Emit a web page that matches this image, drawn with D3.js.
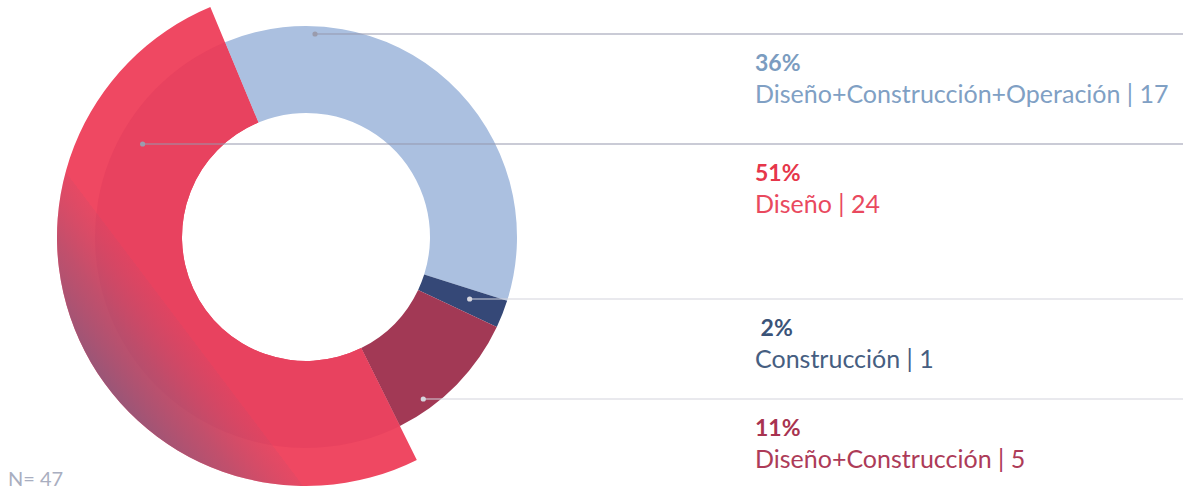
<!DOCTYPE html>
<html>
<head>
<meta charset="utf-8">
<script src="https://cdn.jsdelivr.net/npm/d3@7"></script>
<style>
  body { margin: 0; background: #fff; }
  text { font-family: Lato, "Open Sans", sans-serif; }
</style>
</head>
<body>
<div class="canvas"></div>
<script>
const canvasWidth = 1183;
const canvasHeight = 493;

// data
const categories = ['Diseño+Construcción+Operación', 'Construcción', 'Diseño+Construcción', 'Diseño'];
const counts = [17, 1, 5, 24];
const percents = ['36%', ' 2%', '11%', '51%'];
const legendOrder = [0, 3, 1, 2];
const total = 47;

const sliceColors = ['#abc0e0', '#354877', '#a23955', '#e8425f'];
const pctColors = ['#7b9cc0', '#3b5378', '#a83350', '#e6364a'];
const labelColors = ['#80a0c4', '#465e81', '#ad3b58', '#e9495e'];

const cx = 306, cy = 237;
const innerR = 124, outerR = 211, bigR = 249;
const rowY = [34, 144, 299, 399];           // leader line y per legend row
const dotR = [203.2, 175, 200, 188];        // radius where the leader dot sits, per slice
const lineColors = ['#9597ad', '#d3d3dc', '#d3d3dc', '#9597ad'];

const svg = d3.select('.canvas')
  .append('svg')
  .attr('width', canvasWidth)
  .attr('height', canvasHeight);

const defs = svg.append('defs');

// diagonal shade over the lower-left part of the big slice (coords relative to centre)
const nx = -0.797, ny = 0.603;
const lx = 186 - cx, ly = 331 - cy;
const grad = defs.append('linearGradient')
  .attr('id', 'shade')
  .attr('gradientUnits', 'userSpaceOnUse')
  .attr('x1', lx - 160 * nx).attr('y1', ly - 160 * ny)
  .attr('x2', lx + 100 * nx).attr('y2', ly + 100 * ny);
grad.append('stop').attr('offset', 0).attr('stop-color', '#b9506c').attr('stop-opacity', 0);
grad.append('stop').attr('offset', 0.615).attr('stop-color', '#b9506c').attr('stop-opacity', 0);
grad.append('stop').attr('offset', 0.616).attr('stop-color', '#b0506e').attr('stop-opacity', 0.15);
grad.append('stop').attr('offset', 0.8).attr('stop-color', '#9c5574').attr('stop-opacity', 0.55);
grad.append('stop').attr('offset', 1).attr('stop-color', '#87597c').attr('stop-opacity', 0.85);

const data = categories.map((c, i) => ({ name: c, count: counts[i], i }));

const startA = -22.6 * Math.PI / 180;
const pie = d3.pie()
  .value(d => d.count)
  .sort(null)
  .startAngle(startA)
  .endAngle(startA + 2 * Math.PI);

const arcs = pie(data);

const arc = d3.arc().innerRadius(innerR).outerRadius(outerR);
const arcBig = d3.arc().innerRadius(innerR).outerRadius(bigR);

const graph = svg.append('g')
  .attr('transform', `translate(${cx},${cy})`);

const big = arcs[3];

graph.append('path')
  .attr('d', arcBig(big))
  .attr('fill', '#ef4862');

graph.selectAll('path.slice')
  .data(arcs)
  .enter()
  .append('path')
  .attr('class', 'slice')
  .attr('d', arc)
  .attr('fill', d => sliceColors[d.data.i]);

graph.append('path')
  .attr('d', arcBig(big))
  .attr('fill', 'url(#shade)');

// leader lines and dots
arcs.forEach(d => {
  const i = d.data.i;
  const row = legendOrder.indexOf(i);
  const y = rowY[row];
  const dy = y - cy;
  const mid = (d.startAngle + d.endAngle) / 2;
  const side = Math.sin(mid) >= 0 ? 1 : -1;
  const x = cx + side * Math.sqrt(dotR[i] * dotR[i] - dy * dy);

  svg.append('line')
    .attr('x1', x).attr('x2', canvasWidth)
    .attr('y1', y).attr('y2', y)
    .attr('stroke', lineColors[i])
    .attr('stroke-width', 1);

  svg.append('circle')
    .attr('cx', x).attr('cy', y)
    .attr('r', 2.6)
    .attr('fill', lineColors[i] === '#9597ad' ? '#9a9cae' : '#d6d6de');
});

// legend
const legend = svg.append('g');
legendOrder.forEach((i, row) => {
  const y = rowY[row];
  legend.append('text')
    .attr('x', 755)
    .attr('y', y + 37)
    .attr('fill', pctColors[i])
    .attr('font-size', 23)
    .attr('font-weight', 'bold')
    .style('white-space', 'pre')
    .text(percents[i]);
  legend.append('text')
    .attr('x', 755)
    .attr('y', y + 69)
    .attr('fill', labelColors[i])
    .attr('font-size', 25)
    .text(`${categories[i]} | ${counts[i]}`);
});

svg.append('text')
  .attr('x', 8)
  .attr('y', 486)
  .attr('fill', '#a9aec0')
  .attr('font-size', 20)
  .text(`N= ${total}`);
</script>
</body>
</html>
